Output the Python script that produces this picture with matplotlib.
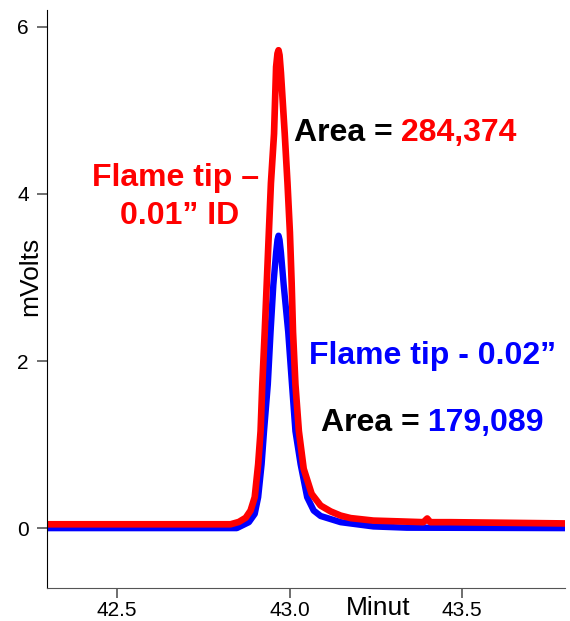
import matplotlib.pyplot as plt
import matplotlib.transforms as mtransforms

plt.rcParams['font.family'] = ['Liberation Sans', 'DejaVu Sans']

# red trace: flame tip 0.01" ID (minutes, mV)
red_x = [42.30, 42.829, 42.853, 42.873, 42.887, 42.899, 42.909, 42.916, 42.921,
         42.928, 42.934, 42.940, 42.946, 42.955, 42.961, 42.965, 42.968, 42.971,
         42.975, 42.986, 42.994, 43.001, 43.006, 43.010, 43.017, 43.027, 43.041,
         43.064, 43.090, 43.119, 43.148, 43.177, 43.243, 43.321, 43.388, 43.399,
         43.408, 43.466, 43.80]
red_y = [0.046, 0.046, 0.074, 0.124, 0.21, 0.37, 0.765, 1.16, 1.72,
         2.35, 2.94, 3.54, 4.13, 4.72, 5.52, 5.68, 5.72, 5.66,
         5.45, 4.72, 4.13, 3.54, 2.94, 2.35, 1.72, 1.16, 0.71,
         0.41, 0.27, 0.20, 0.15, 0.12, 0.09, 0.08, 0.071, 0.115,
         0.071, 0.071, 0.056]

# blue trace: flame tip 0.02"
blue_x = [42.30, 42.847, 42.882, 42.899, 42.909, 42.919, 42.926, 42.937, 42.945,
          42.953, 42.961, 42.965, 42.968, 42.971, 42.975, 42.983, 42.996, 43.007,
          43.017, 43.032, 43.051, 43.070, 43.090, 43.148, 43.243, 43.340, 43.80]
blue_y = [0.0, 0.0, 0.071, 0.17, 0.37, 0.765, 1.16, 1.72, 2.35,
          2.91, 3.30, 3.45, 3.50, 3.45, 3.30, 2.91, 2.35, 1.72,
          1.16, 0.765, 0.37, 0.21, 0.145, 0.071, 0.02, 0.005, 0.0]

y_ticks = [0, 2, 4, 6]
x_ticks = [42.5, 43.0, 43.5]
x_ticklabels = ['42.5', '43.0', '43.5']

fig = plt.figure(figsize=(5.7, 6.21), dpi=100)
ax = fig.add_axes([0.0825, 0.0527, 0.9085, 0.931])

ax.plot(blue_x, blue_y, color='#0000ff', lw=4.6, solid_joinstyle='round')
ax.plot(red_x, red_y, color='#ff0000', lw=4.8, solid_joinstyle='round')

ax.set_xlim(42.297, 43.798)
ax.set_ylim(-0.72, 6.2)
ax.set_xticks(x_ticks)
ax.set_xticklabels(x_ticklabels)
ax.set_yticks(y_ticks)
ax.tick_params(axis='both', direction='out', length=7, width=1.2, colors='#555555',
               labelcolor='black', labelsize=15)
ax.tick_params(axis='y', pad=6)
ax.tick_params(axis='x', pad=2.5)
for side in ['top', 'right']:
    ax.spines[side].set_visible(False)
ax.spines['left'].set_color('black')
ax.spines['bottom'].set_color('#555555')

ax.text(-0.033, 0.54, 'mVolts', transform=ax.transAxes, rotation=90,
        ha='center', va='center', fontsize=19)
trans = mtransforms.blended_transform_factory(ax.transData, ax.transAxes)
ax.text(43.162, -0.046, 'Minut', transform=trans, ha='left', va='baseline', fontsize=19)

big = dict(fontsize=23, fontweight='bold', va='baseline')


def two_color(x, y, first, second, color):
    t = ax.text(x, y, first, color='black', ha='left', **big)
    ax.annotate(second, xy=(1, 0), xycoords=t, xytext=(0, 0), textcoords='offset points',
                color=color, ha='left', fontsize=23, fontweight='bold', va='bottom')


two_color(43.012, 4.63, 'Area =', ' 284,374', '#ff0000')
two_color(43.09, 1.16, 'Area =', ' 179,089', '#0000ff')

ax.text(42.67, 4.09, 'Flame tip \u2013', color='#ff0000', ha='center', **big)
ax.text(42.68, 3.635, '0.01\u201d ID', color='#ff0000', ha='center', **big)
ax.text(43.055, 1.96, 'Flame tip - 0.02\u201d', color='#0000ff', ha='left', **big)

fig.savefig('out.png', dpi=100)
